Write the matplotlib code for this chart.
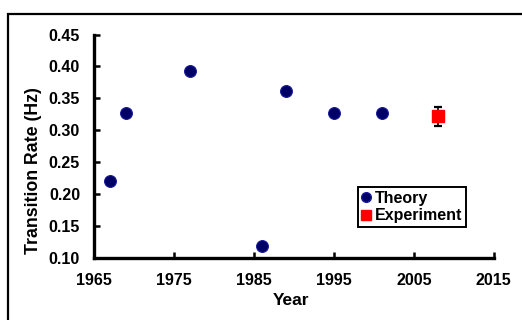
import matplotlib
matplotlib.use('Agg')
import matplotlib.pyplot as plt
from matplotlib.patches import Rectangle

# Transition rate: theoretical predictions and measurement
theory_years = [1967, 1969, 1977, 1986, 1989, 1995, 2001]
theory_rates = [0.220, 0.327, 0.393, 0.119, 0.362, 0.327, 0.327]
exp_years = [2008]
exp_rates = [0.322]
exp_err = [0.015]

x_ticks = [1965, 1975, 1985, 1995, 2005, 2015]
y_ticks = [0.10, 0.15, 0.20, 0.25, 0.30, 0.35, 0.40, 0.45]

plt.rcParams['font.family'] = ['Liberation Sans', 'DejaVu Sans']
plt.rcParams['font.weight'] = 'bold'

fig = plt.figure(figsize=(5.22, 3.20), dpi=100)
ax = fig.add_axes([0.180, 0.194, 0.766, 0.698])

# outer frame around the whole chart area
fig.patches.append(Rectangle((8 / 522, -0.1), 1.2, 1 - 14 / 320 + 0.1,
                             transform=fig.transFigure, fill=False,
                             edgecolor='black', linewidth=1.6))

ax.plot(theory_years, theory_rates, 'o', markersize=8.5,
        markerfacecolor='#000066', markeredgecolor='#1a1a9a',
        markeredgewidth=0.8, label='Theory', zorder=3)
ax.errorbar(exp_years, exp_rates, yerr=exp_err, fmt='s', markersize=8,
            color='red', ecolor='black', elinewidth=1.2, capsize=3,
            capthick=1.6, label='Experiment', zorder=3)

ax.set_xlim(1965, 2015)
ax.set_ylim(0.10, 0.45)
ax.set_xticks(x_ticks)
ax.set_yticks(y_ticks)
ax.set_yticklabels(['%.2f' % v for v in y_ticks])

for side in ['top', 'right']:
    ax.spines[side].set_visible(False)
for side in ['left', 'bottom']:
    ax.spines[side].set_linewidth(2.4)
ax.tick_params(direction='in', length=4, width=1.8, labelsize=11.5)
ax.tick_params(axis='y', pad=10)
ax.tick_params(axis='x', pad=11)

ax.set_xlabel('Year', fontsize=12.5, fontweight='bold')
ax.set_ylabel('Transition Rate (Hz)', fontsize=12.8, fontweight='bold')
ax.xaxis.set_label_coords(0.4925, -0.155)
ax.yaxis.set_label_coords(-0.13, 0.39)

handles, labels = ax.get_legend_handles_labels()
handles = [plt.Line2D([], [], marker='o', color='#000066', markeredgecolor='#1a1a9a',
                      linestyle='none', markersize=7),
           plt.Line2D([], [], marker='s', color='red', linestyle='none', markersize=7)]
leg = ax.legend(handles, labels, loc='upper left', bbox_to_anchor=(0.66, 0.318),
                fontsize=11.5, handlelength=0.5, handletextpad=0.3,
                borderpad=0.25, labelspacing=0.15, borderaxespad=0,
                fancybox=False, framealpha=1)
leg.get_frame().set_edgecolor('black')
leg.get_frame().set_linewidth(1.4)
for t in leg.get_texts():
    t.set_fontweight('bold')

fig.savefig('out.png', dpi=100)
